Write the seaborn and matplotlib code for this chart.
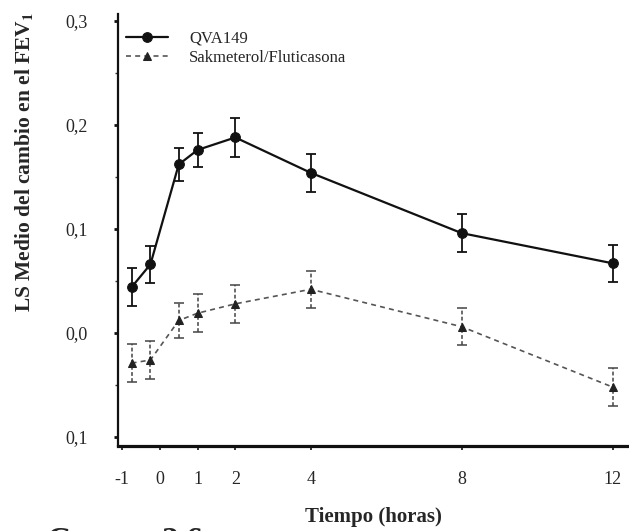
#!/usr/bin/env python
""" FEV1 change over time, QVA149 vs Salmeterol/Fluticasona """

import pandas as pd
import seaborn as sns
import matplotlib
matplotlib.use("Agg")
import matplotlib.pyplot as plt
from matplotlib.ticker import FixedLocator

# Data
hours = [-0.75, -0.25, 0.5, 1, 2, 4, 8, 12]
qva_mean = [0.044, 0.066, 0.162, 0.176, 0.188, 0.154, 0.096, 0.067]
qva_err = [0.018, 0.018, 0.016, 0.016, 0.019, 0.018, 0.018, 0.018]
sal_mean = [-0.029, -0.026, 0.012, 0.019, 0.028, 0.042, 0.006, -0.052]
sal_err = [0.018, 0.018, 0.017, 0.018, 0.018, 0.018, 0.018, 0.018]

x_ticks = [-1, 0, 1, 2, 4, 8, 12]
y_ticks = [0.3, 0.2, 0.1, 0.0, -0.1]
y_ticklabels = ["0,3", "0,2", "0,1", "0,0", "0,1"]

labels = ["QVA149", "Sakmeterol/Fluticasona"]


def main():
    """ Main function """

    sns.set_style("ticks")
    plt.rcParams['font.family'] = ['Liberation Serif', 'DejaVu Serif']
    plt.rcParams['mathtext.fontset'] = 'stix'

    df = pd.DataFrame({
        "hora": hours * 2,
        "media": qva_mean + sal_mean,
        "err": qva_err + sal_err,
        "grupo": [labels[0]] * len(hours) + [labels[1]] * len(hours),
    })

    f = plt.figure(figsize=(6.29, 5.31), dpi=100)
    ax = f.add_axes([118 / 629, 85 / 531, 510 / 629, 432 / 531])

    # QVA149: solid black, circles
    qva = df[df.grupo == labels[0]]
    ax.errorbar(qva.hora, qva.media, yerr=qva.err, fmt='none',
                ecolor='#111111', elinewidth=1.3, capsize=3.5,
                capthick=1.3, zorder=2)
    sns.lineplot(data=qva, x="hora", y="media", ax=ax, color='#111111',
                 lw=1.6, marker='o', markersize=7,
                 markeredgecolor='#111111', label=labels[0], zorder=3)

    # Salmeterol/Fluticasona: dashed grey, triangles
    sal = df[df.grupo == labels[1]]
    eb = ax.errorbar(sal.hora, sal.media, yerr=sal.err, fmt='none',
                     ecolor='#444444', elinewidth=1.1, capsize=3.5,
                     capthick=1.1, zorder=2)
    eb[2][0].set_linestyle((0, (2.5, 1.5)))
    sns.lineplot(data=sal, x="hora", y="media", ax=ax, color='#555555',
                 lw=1.2, linestyle=(0, (3, 2.5)), marker='^',
                 markersize=6, markerfacecolor='#222222',
                 markeredgecolor='#222222', label=labels[1], zorder=3)

    # Axes limits and ticks
    ax.set_xlim(-1.11, 12.41)
    ax.set_ylim(-0.1087, 0.3067)
    ax.set_xticks(x_ticks)
    ax.set_xticklabels([str(t) for t in x_ticks])
    ax.set_yticks(y_ticks)
    ax.set_yticklabels(y_ticklabels)
    ax.yaxis.set_minor_locator(FixedLocator([0.25, 0.15, 0.05, -0.05]))

    ax.tick_params(axis='y', which='major', direction='out', length=3,
                   width=2, pad=19, labelsize=13, color='#111111')
    ax.tick_params(axis='y', which='minor', direction='out', length=2,
                   width=1, color='#333333')
    ax.tick_params(axis='x', which='major', direction='out', length=3,
                   width=1.2, pad=15, labelsize=13, color='#111111')

    sns.despine(ax=ax)
    ax.spines['left'].set_linewidth(1.6)
    ax.spines['bottom'].set_linewidth(2.3)
    ax.spines['left'].set_color('#111111')
    ax.spines['bottom'].set_color('#111111')

    # Labels
    ax.set_xlabel("Tiempo (horas)", fontsize=15, fontweight='bold',
                  labelpad=14)
    ax.set_ylabel("")
    f.text(24 / 629, 1 - 162 / 531,
           r"LS Medio del cambio en el FEV$_\mathbf{1}$",
           rotation=90, ha='center', va='center', fontsize=15.5,
           fontweight='bold')

    # Caption at the bottom edge, mostly cut off as in the scan
    f.text(46 / 629, -19 / 531, "Curva", fontsize=24, fontweight='bold',
           ha='left', va='baseline')
    f.text(162 / 629, -19 / 531, "2.6", fontsize=24, fontweight='bold',
           ha='left', va='baseline')

    # Legend
    ax.legend(loc='upper left', bbox_to_anchor=(126 / 629, 1 - 31 / 531),
              bbox_transform=f.transFigure, frameon=False, fontsize=12,
              handlelength=2.5, handletextpad=1.3, labelspacing=0.2,
              borderpad=0, borderaxespad=0)

    plt.savefig("out.png", dpi=100)
    plt.close(f)


if __name__ == '__main__':
    main()
